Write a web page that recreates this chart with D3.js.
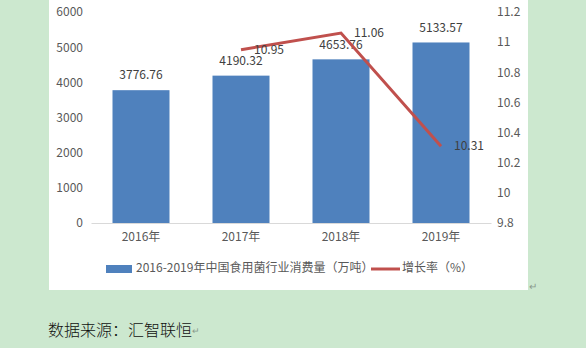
<!DOCTYPE html>
<html>
<head>
<meta charset="utf-8">
<script src="https://cdn.jsdelivr.net/npm/d3@7"></script>
<style>
  html, body { margin: 0; padding: 0; background: #cce8cf; }
  svg { display: block; }
</style>
</head>
<body>
<div id="chart"></div>
<script>
// data
var years = ["2016年", "2017年", "2018年", "2019年"];
var consumption = [3776.76, 4190.32, 4653.76, 5133.57];
var growthYears = ["2017年", "2018年", "2019年"];
var growthRate = [10.95, 11.06, 10.31];
var leftTicks = [0, 1000, 2000, 3000, 4000, 5000, 6000];
var rightTicks = [9.8, 10, 10.2, 10.4, 10.6, 10.8, 11, 11.2];
var barName = "2016-2019年中国食用菌行业消费量（万吨）";
var lineName = "增长率（%）";
var source = "数据来源：汇智联恒";

var width = 586, height = 348,
    font = "'Microsoft YaHei', 'Noto Sans CJK SC', sans-serif",
    textColor = "#595959";

var svg = d3.select("#chart").append("svg")
    .attr("width", width)
    .attr("height", height)
    .style("font-family", font);

// white chart panel
svg.append("rect")
    .attr("x", 49).attr("y", 0)
    .attr("width", 479).attr("height", 290)
    .attr("fill", "#ffffff");

var x = d3.scaleBand()
    .domain(years)
    .range([91, 491])
    .paddingInner(0.43)
    .paddingOuter(0.215);

var yLeft = d3.scaleLinear().domain([0, 6000]).range([223, 12]);
var yRight = d3.scaleLinear().domain([9.8, 11.2]).range([223, 12]);

// left axis
var gLeft = svg.append("g")
    .attr("transform", "translate(85,0)")
    .call(d3.axisLeft(yLeft).tickValues(leftTicks).tickSize(0).tickPadding(2)
        .tickFormat(function (d) { return String(d); }));
gLeft.select(".domain").remove();

// right axis
var gRight = svg.append("g")
    .attr("transform", "translate(495,0)")
    .call(d3.axisRight(yRight).tickValues(rightTicks).tickSize(0).tickPadding(2)
        .tickFormat(function (d) { return String(+d.toFixed(1)); }));
gRight.select(".domain").remove();

[gLeft, gRight].forEach(function (g) {
    g.selectAll("text")
        .attr("fill", textColor)
        .style("font-size", "12px")
        .style("font-family", font);
});

// bars
svg.selectAll(".bar")
    .data(consumption)
    .enter().append("rect")
    .attr("class", "bar")
    .attr("x", function (d, i) { return x(years[i]); })
    .attr("y", function (d) { return yLeft(d); })
    .attr("width", x.bandwidth())
    .attr("height", function (d) { return yLeft(0) - yLeft(d); })
    .attr("fill", "#4f81bd");

// category axis
var gBottom = svg.append("g")
    .attr("transform", "translate(0," + yLeft(0) + ")")
    .call(d3.axisBottom(x).tickSize(0).tickPadding(9).tickSizeOuter(0));
gBottom.select(".domain").attr("stroke", "#d9d9d9");
gBottom.selectAll("text")
    .attr("fill", textColor)
    .style("font-size", "12px")
    .style("font-family", font);

// bar values
svg.selectAll(".barLabel")
    .data(consumption)
    .enter().append("text")
    .attr("class", "barLabel")
    .attr("x", function (d, i) { return x(years[i]) + x.bandwidth() / 2; })
    .attr("y", function (d) { return yLeft(d) - 14; })
    .attr("text-anchor", "middle")
    .attr("dominant-baseline", "middle")
    .attr("fill", "#404040")
    .style("font-size", "12px")
    .text(function (d) { return d.toFixed(2); });

// growth line
var line = d3.line()
    .x(function (d, i) { return x(growthYears[i]) + x.bandwidth() / 2; })
    .y(function (d) { return yRight(d); });

svg.append("path")
    .datum(growthRate)
    .attr("d", line)
    .attr("fill", "none")
    .attr("stroke", "#c0504d")
    .attr("stroke-width", 3);

svg.selectAll(".lineLabel")
    .data(growthRate)
    .enter().append("text")
    .attr("class", "lineLabel")
    .attr("x", function (d, i) { return x(growthYears[i]) + x.bandwidth() / 2 + 13; })
    .attr("y", function (d) { return yRight(d) + 1; })
    .attr("dominant-baseline", "middle")
    .attr("fill", "#404040")
    .style("font-size", "12px")
    .text(function (d) { return d.toFixed(2); });

// legend
var legend = svg.append("g").attr("transform", "translate(0,269)");
legend.append("rect")
    .attr("x", 106).attr("y", -4)
    .attr("width", 26).attr("height", 8)
    .attr("fill", "#4f81bd");
legend.append("text")
    .attr("x", 136).attr("y", 0)
    .attr("dominant-baseline", "middle")
    .attr("fill", textColor)
    .style("font-size", "12px")
    .text(barName);
legend.append("line")
    .attr("x1", 371).attr("x2", 400)
    .attr("y1", 0).attr("y2", 0)
    .attr("stroke", "#c0504d")
    .attr("stroke-width", 3);
legend.append("text")
    .attr("x", 402).attr("y", 0)
    .attr("dominant-baseline", "middle")
    .attr("fill", textColor)
    .style("font-size", "12px")
    .text(lineName);

// return marks and source line
svg.append("text")
    .attr("x", 529).attr("y", 290)
    .attr("fill", "#8a9a8c")
    .style("font-size", "10px")
    .text("↵");

var src = svg.append("text")
    .attr("x", 48).attr("y", 332)
    .attr("dominant-baseline", "middle")
    .attr("fill", "#111111")
    .style("font-size", "16px")
    .style("font-weight", 300)
    .style("font-family", "'Noto Sans CJK SC', sans-serif")
    .text(source);
src.append("tspan")
    .attr("fill", "#8a9a8c")
    .style("font-size", "9px")
    .text("↵");
</script>
</body>
</html>
